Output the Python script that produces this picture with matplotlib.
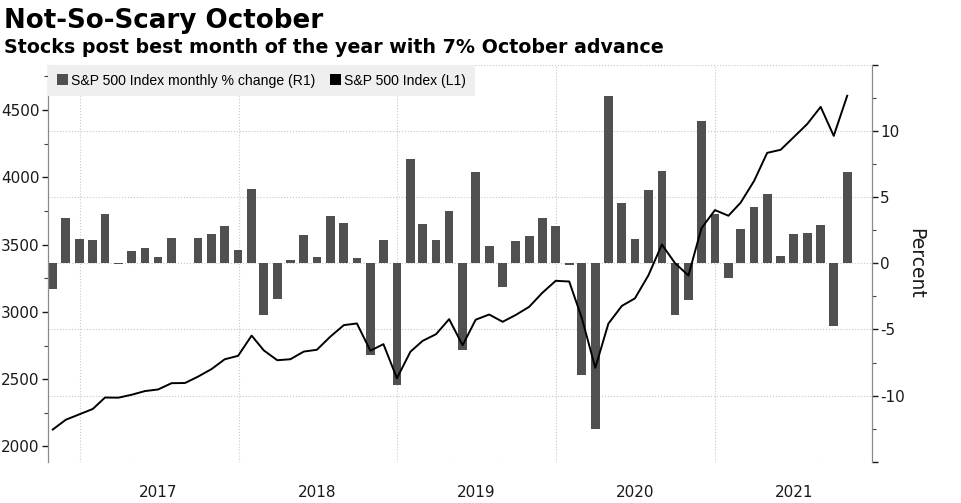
import matplotlib
matplotlib.use("Agg")
import matplotlib.pyplot as plt
import matplotlib.dates as mdates
from matplotlib.patches import Patch
from matplotlib.ticker import MultipleLocator, FixedLocator, FuncFormatter
import pandas as pd

# month-end dates, Oct 2016 .. Oct 2021
months = pd.date_range("2016-10-31", "2021-10-31", freq="ME")

spx_close = [
    2126.15, 2198.81, 2238.83,
    2278.87, 2363.64, 2362.72, 2384.20, 2411.80, 2423.41,
    2470.30, 2471.65, 2519.36, 2575.26, 2647.58, 2673.61,
    2823.81, 2713.83, 2640.87, 2648.05, 2705.27, 2718.37,
    2816.29, 2901.52, 2913.98, 2711.74, 2760.17, 2506.85,
    2704.10, 2784.49, 2834.40, 2945.83, 2752.06, 2941.76,
    2980.38, 2926.46, 2976.74, 3037.56, 3140.98, 3230.78,
    3225.52, 2954.22, 2584.59, 2912.43, 3044.31, 3100.29,
    3271.12, 3500.31, 3363.00, 3269.96, 3621.63, 3756.07,
    3714.24, 3811.15, 3972.89, 4181.17, 4204.11, 4297.50,
    4395.26, 4522.68, 4307.54, 4605.38,
]

pct_change = [
    -1.94, 3.42, 1.82,
    1.79, 3.72, -0.04, 0.91, 1.16, 0.48,
    1.93, 0.05, 1.93, 2.22, 2.81, 0.98,
    5.62, -3.89, -2.69, 0.27, 2.16, 0.48,
    3.60, 3.03, 0.43, -6.94, 1.79, -9.18,
    7.87, 2.97, 1.79, 3.93, -6.58, 6.89,
    1.31, -1.81, 1.72, 2.04, 3.40, 2.86,
    -0.16, -8.41, -12.51, 12.68, 4.53, 1.84,
    5.51, 7.01, -3.92, -2.77, 10.75, 3.71,
    -1.11, 2.61, 4.24, 5.24, 0.55, 2.22,
    2.27, 2.90, -4.76, 6.91,
]

title = "Not-So-Scary October"
subtitle = "Stocks post best month of the year with 7% October advance"
bar_label = "S&P 500 Index monthly % change (R1)"
line_label = "S&P 500 Index (L1)"

bar_color = "#505050"
grid_color = "#c8c8c8"
text_color = "#1a1a1a"

fig = plt.figure(figsize=(9.62, 5.03), dpi=100)
ax = fig.add_axes([0.0499, 0.0821, 0.8561, 0.7887])
ax2 = ax.twinx()

# bars on the right axis, line on the left axis drawn above them
ax2.bar(months, pct_change, width=20, color=bar_color, zorder=2)
ax.plot(months, spx_close, color="black", lw=1.4, zorder=3)
ax.set_zorder(ax2.get_zorder() + 1)
ax.patch.set_visible(False)

ax.set_xlim(pd.Timestamp("2016-10-20"), pd.Timestamp("2021-12-26"))
ax.set_ylim(1887, 4834)
ax2.set_ylim(-15, 15)

# left axis ticks
ax.yaxis.set_major_locator(MultipleLocator(500))
ax.yaxis.set_minor_locator(MultipleLocator(250))
ax.tick_params(axis="y", which="major", length=4, width=1, labelsize=11,
               colors=text_color, pad=2)
ax.tick_params(axis="y", which="minor", length=3, width=0.8, colors="#444444")

# right axis ticks
ax2.yaxis.set_major_locator(FixedLocator(range(-15, 16, 5)))
ax2.yaxis.set_minor_locator(MultipleLocator(2.5))
ax2.yaxis.set_major_formatter(FuncFormatter(lambda v, p: "" if abs(v) >= 15 else f"{v:.0f}"))
ax2.tick_params(axis="y", which="major", length=4, width=1, labelsize=11,
                colors=text_color, pad=2)
ax2.tick_params(axis="y", which="minor", length=3, width=0.8, colors="#444444")
ax2.set_ylabel("Percent", rotation=270, fontsize=13.5, color=text_color, labelpad=15)
ax2.yaxis.grid(True, which="major", color=grid_color, ls=":", lw=0.8)
ax2.set_axisbelow(True)

# x axis: gridlines at year starts, labels mid-year
ax.xaxis.set_major_locator(mdates.YearLocator())
ax.xaxis.set_major_formatter(FuncFormatter(lambda v, p: ""))
ax.xaxis.set_minor_locator(mdates.MonthLocator(bymonth=7, bymonthday=1))
ax.xaxis.set_minor_formatter(mdates.DateFormatter("%Y"))
ax.tick_params(axis="x", which="both", length=0, labelsize=11, colors=text_color)
ax.tick_params(axis="x", which="minor", pad=17)
for yr in range(2017, 2022):
    ax2.axvline(pd.Timestamp(f"{yr}-01-01"), color=grid_color, ls=":", lw=0.8, zorder=0)

for a in (ax, ax2):
    a.spines["top"].set_visible(False)
    a.spines["bottom"].set_visible(False)
    a.spines["left"].set_color("#8a8a8a")
    a.spines["right"].set_color("#8a8a8a")

handles = [Patch(facecolor=bar_color, label=bar_label),
           Patch(facecolor="black", label=line_label)]
leg = ax.legend(handles=handles, loc="upper left", ncol=2, frameon=True,
                fancybox=False, borderaxespad=0,
                prop={"family": "Liberation Sans", "size": 10.1},
                handlelength=0.8, handleheight=0.8, handletextpad=0.25,
                columnspacing=1.0, borderpad=0.62)
leg.get_frame().set_facecolor("#efefef")
leg.get_frame().set_edgecolor("none")
leg.get_frame().set_alpha(1)

fig.text(0.004, 0.985, title, fontsize=18.8, fontweight="bold", va="top", ha="left")
fig.text(0.004, 0.925, subtitle, fontsize=13.7, fontweight="bold", va="top", ha="left")

fig.savefig("out.png", dpi=100)
